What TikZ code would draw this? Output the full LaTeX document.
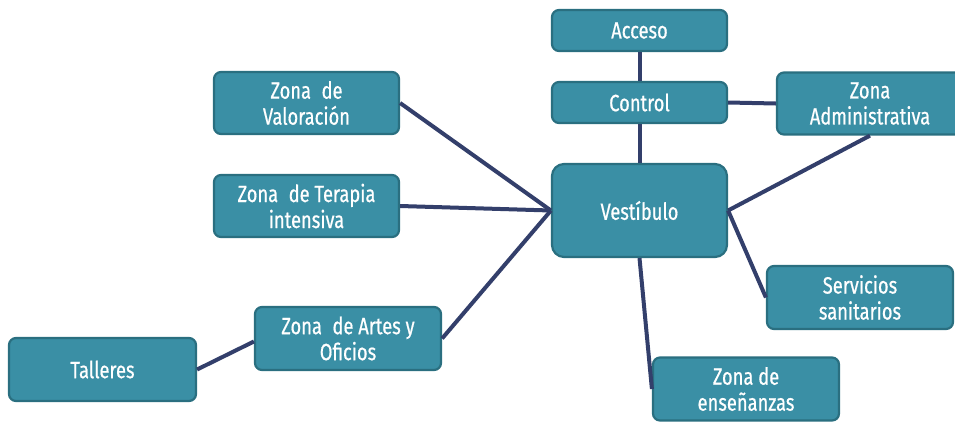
\documentclass[tikz,border=0pt]{standalone}
\usepackage{fontspec}
\setmainfont{Fira Sans}[FakeStretch=0.82]
\newfontfamily\boxfont{Fira Sans}[FakeStretch=0.78,FakeBold=0.6]
\definecolor{boxfill}{HTML}{3A8FA5}
\definecolor{boxdraw}{HTML}{2A6F80}
\definecolor{link}{HTML}{333F6B}
\begin{document}
\begin{tikzpicture}[x=1pt,y=-1pt,
  zbox/.style={draw=boxdraw,fill=boxfill,line width=2.2pt,rounded corners=7pt,
    text=white,align=center,inner sep=0pt,font=\boxfont\fontsize{23.5}{26}\selectfont},
  link/.style={draw=link,line width=4pt}]
\useasboundingbox (0,0) rectangle (955,421);
\node[zbox,minimum width=175pt,minimum height=41pt] (acc) at (639.5,30.5) {Acceso};
\node[zbox,minimum width=175pt,minimum height=41pt] (ctl) at (639.5,102.5) {Control};
\node[zbox,minimum width=186pt,minimum height=62pt] (adm) at (870,103.5) {Zona\\Administrativa};
\node[zbox,minimum width=175pt,minimum height=93pt,rounded corners=12pt] (ves) at (639.5,210.5) {Vestíbulo};
\node[zbox,minimum width=185pt,minimum height=62pt] (val) at (306.5,103) {Zona\hspace{0.45em}de\\Valoración};
\node[zbox,minimum width=185pt,minimum height=62pt] (ter) at (306.5,206) {Zona\hspace{0.45em}de Terapia\\intensiva};
\node[zbox,minimum width=186pt,minimum height=63pt] (art) at (348,338.5) {Zona\hspace{0.45em}de Artes y\\Oficios};
\node[zbox,minimum width=187pt,minimum height=63pt] (tal) at (102.5,369.5) {Talleres};
\node[zbox,minimum width=186pt,minimum height=63pt] (san) at (860,297.5) {Servicios\\sanitarios};
\node[zbox,minimum width=186pt,minimum height=63pt] (ens) at (746,389) {Zona de\\enseñanzas};
\draw[link] (acc.south) -- (ctl.north);
\draw[link] (ctl.south) -- (ves.north);
\draw[link] (ctl.east) -- (adm.west);
\draw[link] (adm.south) -- (ves.east);
\draw[link] (ves.east) -- (san.west);
\draw[link] (ves.south) -- (ens.west);
\draw[link] (val.east) -- (ves.west);
\draw[link] (ter.east) -- (ves.west);
\draw[link] (art.east) -- (ves.west);
\draw[link] (tal.east) -- ([yshift=-3pt]art.west);
\end{tikzpicture}
\end{document}
